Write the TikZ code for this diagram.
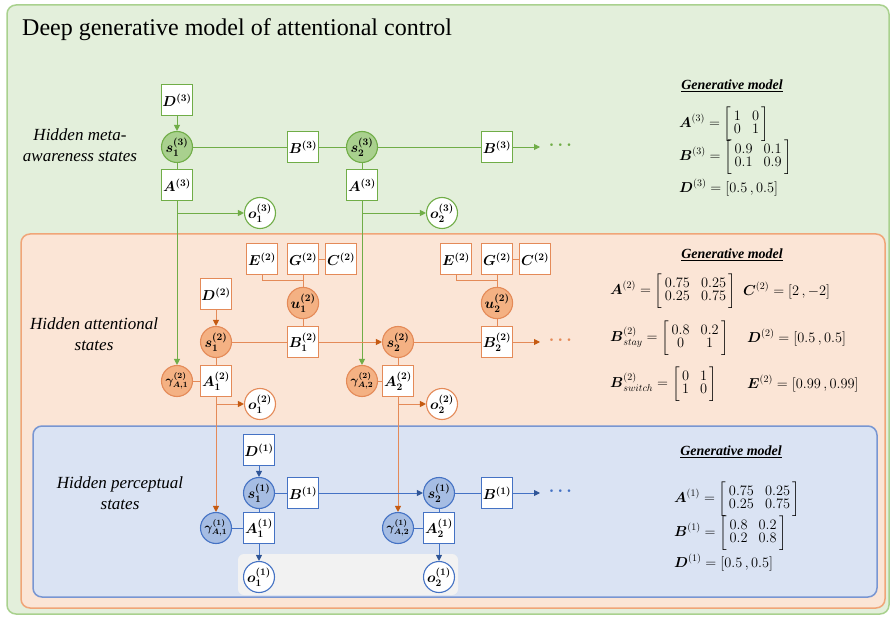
\documentclass[tikz,border=0pt]{standalone}
\usepackage{amsmath}
\usepackage{fontspec}
\setmainfont{Liberation Serif}
\usetikzlibrary{arrows.meta}
\usetikzlibrary{calc}
\definecolor{grnbg}{RGB}{227,239,219}
\definecolor{grnedge}{RGB}{169,209,142}
\definecolor{grnfill}{RGB}{169,208,142}
\definecolor{grnline}{RGB}{112,173,71}
\definecolor{orgbg}{RGB}{251,229,214}
\definecolor{orgedge}{RGB}{240,165,120}
\definecolor{orgfill}{RGB}{244,177,131}
\definecolor{orgline}{RGB}{228,138,88}
\definecolor{orgtip}{RGB}{197,90,17}
\definecolor{bluebg}{RGB}{218,227,243}
\definecolor{blueedge}{RGB}{120,150,210}
\definecolor{bluefill}{RGB}{166,189,227}
\definecolor{blueline}{RGB}{68,114,196}
\definecolor{bluetip}{RGB}{47,85,151}
\definecolor{panel}{RGB}{242,242,242}
\tikzset{lbl/.style={font=\fontsize{14}{16}\selectfont\boldmath}}
\tikzset{box/.style={lbl, draw=#1, fill=white, line width=1.1pt, minimum width=31pt, minimum height=31pt, inner sep=0pt}}
\tikzset{hstate/.style={lbl, draw=#1, circle, line width=1.1pt, minimum size=31pt, inner sep=0pt}}
\tikzset{gam/.style={hstate=#1, font=\fontsize{11.5}{13}\selectfont\boldmath}}
\tikzset{link/.style={draw=#1, line width=0.9pt}}
\tikzset{arr/.style 2 args={draw=#1, line width=0.9pt, -{Triangle[length=6pt,width=6pt,color=#2]}}}
\tikzset{layer/.style={rounded corners=9pt, line width=1.5pt}}
\tikzset{sidelbl/.style={font=\fontsize{17}{21}\selectfont\itshape, align=center}}
\tikzset{eq/.style={font=\fontsize{14.5}{15}\selectfont, anchor=west, inner sep=0pt}}
\tikzset{gm/.style={font=\fontsize{14}{16}\selectfont\bfseries\itshape}}
\tikzset{cont/.style={font=\fontsize{17}{17}\selectfont\boldmath, text=#1}}
\newcommand{\mtx}[1]{\biggl[\renewcommand{\arraystretch}{0.7}\begin{array}{@{\,}c@{\hspace{11pt}}c@{\,}}#1\end{array}\biggr]}

\begin{document}
\begin{tikzpicture}[x=1pt,y=-1pt]
\useasboundingbox (0,0) rectangle (891,617);
% layers
\draw[layer, fill=grnbg, draw=grnedge] (7,5) rectangle (889,614);
\draw[layer, fill=orgbg, draw=orgedge] (21,234) rectangle (885,608);
\draw[layer, fill=bluebg, draw=blueedge] (33,426) rectangle (877,597);
\fill[panel, rounded corners=6pt] (238,554) rectangle (458,595);
\node[anchor=base west, inner sep=0pt, font=\fontsize{24}{28}\selectfont] (title) at (22,36) {Deep generative model of attentional control};
%
% meta-awareness level
\node[sidelbl] (lab3) at (80,145) {Hidden meta-\\awareness states};
\node[box=grnline] (D3) at (177,100) {$D^{(3)}$};
\node[hstate=grnline, fill=grnfill] (s13) at (177,147) {$s_1^{(3)}$};
\node[box=grnline] (B31) at (303,147) {$B^{(3)}$};
\node[hstate=grnline, fill=grnfill] (s23) at (362,147) {$s_2^{(3)}$};
\node[box=grnline] (B32) at (497,147) {$B^{(3)}$};
\coordinate (e3) at (540,147);
\node[cont=grnline] (more3) at (562,145) {$\cdots$};
\node[box=grnline] (A31) at (177,185) {$A^{(3)}$};
\node[box=grnline] (A32) at (362,185) {$A^{(3)}$};
\node[hstate=grnline, fill=white] (o13) at (260,213) {$o_1^{(3)}$};
\node[hstate=grnline, fill=white] (o23) at (442,213) {$o_2^{(3)}$};
%
% attentional level
\node[sidelbl] (lab2) at (94,334) {Hidden attentional\\states};
\node[box=orgline] (E21) at (262,259) {$E^{(2)}$};
\node[box=orgline] (G21) at (303,259) {$G^{(2)}$};
\node[box=orgline] (C21) at (341,259) {$C^{(2)}$};
\node[hstate=orgline, fill=orgfill] (u21) at (303,303) {$u_1^{(2)}$};
\node[box=orgline] (D2) at (216,294) {$D^{(2)}$};
\node[hstate=orgline, fill=orgfill] (s12) at (216,342) {$s_1^{(2)}$};
\node[box=orgline] (B21) at (303,342) {$B_1^{(2)}$};
\node[hstate=orgline, fill=orgfill] (s22) at (398,342) {$s_2^{(2)}$};
\node[box=orgline] (E22) at (456,259) {$E^{(2)}$};
\node[box=orgline] (G22) at (497,259) {$G^{(2)}$};
\node[box=orgline] (C22) at (535,259) {$C^{(2)}$};
\node[hstate=orgline, fill=orgfill] (u22) at (497,303) {$u_2^{(2)}$};
\node[box=orgline] (B22) at (497,342) {$B_2^{(2)}$};
\coordinate (e2) at (540,342);
\node[cont=orgline] (more2) at (562,340) {$\cdots$};
\node[gam=orgline, fill=orgfill] (g21) at (177,381) {$\gamma_{A,1}^{(2)}$};
\node[box=orgline] (A12) at (216,381) {$A_1^{(2)}$};
\node[hstate=orgline, fill=white] (o12) at (260,404) {$o_1^{(2)}$};
\node[gam=orgline, fill=orgfill] (g22) at (362,381) {$\gamma_{A,2}^{(2)}$};
\node[box=orgline] (A22) at (398,381) {$A_2^{(2)}$};
\node[hstate=orgline, fill=white] (o22) at (442,404) {$o_2^{(2)}$};
%
% perceptual level
\node[sidelbl] (lab1) at (120,493) {Hidden perceptual\\states};
\node[box=blueline] (D1) at (259,450) {$D^{(1)}$};
\node[hstate=blueline, fill=bluefill] (s11) at (259,493) {$s_1^{(1)}$};
\node[box=blueline] (B11) at (303,493) {$B^{(1)}$};
\node[hstate=blueline, fill=bluefill] (s21) at (439,493) {$s_2^{(1)}$};
\node[box=blueline] (B12) at (497,493) {$B^{(1)}$};
\coordinate (e1) at (540,493);
\node[cont=blueline] (more1) at (562,491) {$\cdots$};
\node[gam=blueline, fill=bluefill] (g11) at (216,528) {$\gamma_{A,1}^{(1)}$};
\node[box=blueline] (A11) at (259,528) {$A_1^{(1)}$};
\node[gam=blueline, fill=bluefill] (g12) at (398,528) {$\gamma_{A,2}^{(1)}$};
\node[box=blueline] (A21) at (439,528) {$A_2^{(1)}$};
\node[hstate=blueline, fill=white] (o11) at (259,577) {$o_1^{(1)}$};
\node[hstate=blueline, fill=white] (o21) at (439,577) {$o_2^{(1)}$};
%
% links, level 3
\draw[arr={grnline}{grnline}] (D3) -- (s13);
\draw[link=grnline] (s13) -- (B31) -- (s23) -- (B32);
\draw[arr={grnline}{grnline}] (B32) -- (e3);
\draw[link=grnline] (s13) -- (A31);
\draw[link=grnline] (s23) -- (A32);
\draw[arr={grnline}{grnline}] (A31) -- (g21);
\draw[arr={grnline}{grnline}] (A31 |- o13) -- (o13);
\draw[arr={grnline}{grnline}] (A32) -- (g22);
\draw[arr={grnline}{grnline}] (A32 |- o23) -- (o23);
% links, level 2
\draw[arr={orgline}{orgtip}] (D2) -- (s12);
\draw[link=orgline] (s12) -- (B21);
\draw[arr={orgline}{orgtip}] (B21) -- (s22);
\draw[link=orgline] (s22) -- (B22);
\draw[arr={orgline}{orgtip}] (B22) -- (e2);
\draw[link=orgline] (G21) -- (C21);
\draw[link=orgline] (G21) -- (u21) -- (B21);
\draw[link=orgline] (E21) |- ($(G21.south)!0.5!(u21.north)$);
\draw[link=orgline] (G22) -- (C22);
\draw[link=orgline] (G22) -- (u22) -- (B22);
\draw[link=orgline] (E22) |- ($(G22.south)!0.5!(u22.north)$);
\draw[link=orgline] (s12) -- (A12);
\draw[link=orgline] (g21) -- (A12);
\draw[link=orgline] (s22) -- (A22);
\draw[link=orgline] (g22) -- (A22);
\draw[arr={orgline}{orgtip}] (A12) -- (g11);
\draw[arr={orgline}{orgtip}] (A12 |- o12) -- (o12);
\draw[arr={orgline}{orgtip}] (A22) -- (g12);
\draw[arr={orgline}{orgtip}] (A22 |- o22) -- (o22);
% links, level 1
\draw[arr={blueline}{bluetip}] (D1) -- (s11);
\draw[link=blueline] (s11) -- (B11);
\draw[arr={blueline}{bluetip}] (B11) -- (s21);
\draw[link=blueline] (s21) -- (B12);
\draw[arr={blueline}{bluetip}] (B12) -- (e1);
\draw[link=blueline] (s11) -- (A11);
\draw[link=blueline] (g11) -- (A11);
\draw[link=blueline] (s21) -- (A21);
\draw[link=blueline] (g12) -- (A21);
\draw[arr={blueline}{bluetip}] (A11) -- (o11);
\draw[arr={blueline}{bluetip}] (A21) -- (o21);
%
% generative model parameters
\node[gm] (gm3) at (732,86) {\underline{Generative model}};
\node[eq] (eqA3) at (679,124) {$\boldsymbol{A}^{(3)} = \mtx{1 & 0\\ 0 & 1}$};
\node[eq] (eqB3) at (679,157) {$\boldsymbol{B}^{(3)} = \mtx{0.9 & 0.1\\ 0.1 & 0.9}$};
\node[eq] (eqD3) at (679,188) {$\boldsymbol{D}^{(3)} = [0.5\,, 0.5]$};
\node[gm] (gm2) at (732,255) {\underline{Generative model}};
\node[eq] (eqA2) at (610,291) {$\boldsymbol{A}^{(2)} = \mtx{0.75 & 0.25\\ 0.25 & 0.75}$};
\node[eq] (eqC2) at (743,291) {$\boldsymbol{C}^{(2)} = [2\,, -2]$};
\node[eq] (eqBs) at (610,338) {$\boldsymbol{B}^{(2)}_{stay} = \mtx{0.8 & 0.2\\ 0 & 1}$};
\node[eq] (eqD2) at (747,338) {$\boldsymbol{D}^{(2)} = [0.5\,, 0.5]$};
\node[eq] (eqBw) at (610,384) {$\boldsymbol{B}^{(2)}_{switch} = \mtx{0 & 1\\ 1 & 0}$};
\node[eq] (eqE2) at (747,384) {$\boldsymbol{E}^{(2)} = [0.99\,, 0.99]$};
\node[gm] (gm1) at (731,452) {\underline{Generative model}};
\node[eq] (eqA1) at (674,499) {$\boldsymbol{A}^{(1)} = \mtx{0.75 & 0.25\\ 0.25 & 0.75}$};
\node[eq] (eqB1) at (674,533) {$\boldsymbol{B}^{(1)} = \mtx{0.8 & 0.2\\ 0.2 & 0.8}$};
\node[eq] (eqD1) at (674,563) {$\boldsymbol{D}^{(1)} = [0.5\,, 0.5]$};
\end{tikzpicture}
\end{document}
